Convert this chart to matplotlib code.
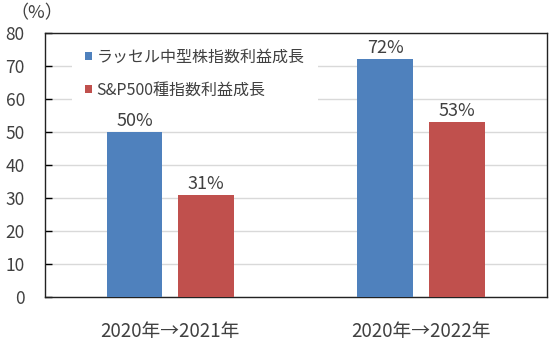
import matplotlib
matplotlib.use("Agg")
import matplotlib.pyplot as plt
import numpy as np

plt.rcParams['font.family'] = ['Noto Sans CJK JP', 'DejaVu Sans']

categories = ["2020年→2021年", "2020年→2022年"]
series_names = ["ラッセル中型株指数利益成長", "S&P500種指数利益成長"]
russell = [50, 72]
sp500 = [31, 53]
colors = ["#4F81BD", "#C0504D"]
text_color = "#404040"

W, H = 550, 341
fig = plt.figure(figsize=(W / 100, H / 100), dpi=100)
ax = fig.add_axes([45 / W, 1 - 297 / H, 501.5 / W, 264 / H])

x = np.arange(len(categories))
width = 0.222
offset = 0.143

for vals, off, col, name in zip([russell, sp500], [-offset, offset], colors, series_names):
    bars = ax.bar(x + off, vals, width, color=col, label=name, zorder=3)
    for b, v in zip(bars, vals):
        ax.text(b.get_x() + b.get_width() / 2, v + 0.6, f"{v}%",
                ha="center", va="bottom", fontsize=13, color=text_color, zorder=4)

ax.set_ylim(0, 80)
ax.set_xlim(-0.5, 1.5)
ax.set_yticks(range(0, 81, 10))
ax.set_xticks(x)
ax.set_xticklabels(categories)
ax.yaxis.grid(True, color="#D9D9D9", linewidth=1, zorder=0)
ax.set_axisbelow(True)

ax.tick_params(axis="y", direction="in", length=5, width=1, pad=14.5,
               labelsize=12.5, labelcolor=text_color)
ax.tick_params(axis="x", length=0, pad=17, labelsize=13.5, labelcolor=text_color)
for s in ax.spines.values():
    s.set_color("#222222")
    s.set_linewidth(1)

fig.text(37 / W, 1 - 13 / H, "（%）", ha="center", va="center", fontsize=13, color=text_color)

leg = ax.legend(loc="upper left", bbox_to_anchor=(72 / W, 1 - 36 / H),
                bbox_transform=fig.transFigure, frameon=True,
                fontsize=11.5, handlelength=0.45, handleheight=0.45, handletextpad=0.3,
                labelspacing=1.0, borderpad=0.8, borderaxespad=0, labelcolor=text_color)
leg.get_frame().set_facecolor("white")
leg.get_frame().set_edgecolor("none")
leg.get_frame().set_alpha(1)
leg.set_zorder(5)

fig.savefig("out.png", dpi=100)
